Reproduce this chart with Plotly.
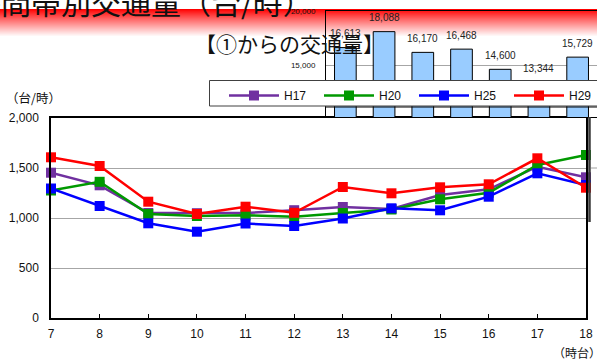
import plotly.graph_objects as go

W, H = 597, 359

# ---- main line chart data ----
hours = [7, 8, 9, 10, 11, 12, 13, 14, 15, 16, 17, 18]
h17 = [1453, 1327, 1050, 1048, 1050, 1078, 1110, 1090, 1230, 1287, 1513, 1407]
h20 = [1275, 1362, 1040, 1020, 1027, 1012, 1050, 1085, 1187, 1253, 1530, 1630]
h25 = [1295, 1120, 947, 863, 945, 920, 995, 1097, 1077, 1213, 1447, 1330]
h29 = [1607, 1520, 1163, 1040, 1113, 1052, 1310, 1247, 1307, 1337, 1597, 1303]
series_names = ["H17", "H20", "H25", "H29"]
series_colors = ["#7030A0", "#009900", "#0000FF", "#FF0000"]
y_ticks = [0, 500, 1000, 1500, 2000]

# ---- background inset bar chart data ----
inset_cats = ["c1", "c2", "c3", "c4", "c5", "c6", "c7"]
inset_vals = [16613, 18088, 16170, 16468, 14600, 13344, 15729]
inset_ticks = [15000, 20000]

def px_x(p):
    return p / W

def px_y(p):
    return (H - p) / H

fig = go.Figure()

# inset bars (behind)
fig.add_trace(go.Bar(
    x=inset_cats, y=inset_vals, xaxis="x2", yaxis="y2",
    marker=dict(color="#99CCFF", line=dict(color="#000000", width=1)),
    width=0.56, showlegend=False, hoverinfo="skip",
))

for name, vals, col in zip(series_names, [h17, h20, h25, h29], series_colors):
    fig.add_trace(go.Scatter(
        x=hours, y=vals, name=name, mode="lines+markers",
        line=dict(color=col, width=2.5),
        marker=dict(symbol="square", size=10, color=col),
        cliponaxis=False,
    ))

shapes = []
# red gradient band across the top
top, bot = 9, 37
n = bot - top
for i in range(n):
    t = i / (n - 1)
    g = int(round(255 * t ** 0.9))
    shapes.append(dict(type="rect", xref="paper", yref="paper",
                       x0=0, x1=1, y0=px_y(top + i + 1), y1=px_y(top + i),
                       fillcolor=f"rgb(255,{g},{g})", line=dict(width=0), layer="below"))
# decorative lines from the overlapping inset
shapes.append(dict(type="line", xref="paper", yref="paper",
                   x0=px_x(326), x1=1, y0=px_y(107), y1=px_y(107),
                   line=dict(color="#000000", width=1)))
shapes.append(dict(type="line", xref="paper", yref="paper",
                   x0=px_x(589.5), x1=px_x(589.5), y0=px_y(117), y1=px_y(222),
                   line=dict(color="#3a3a3a", width=2.5)))
shapes.append(dict(type="line", xref="paper", yref="paper",
                   x0=px_x(591), x1=1, y0=px_y(168), y1=px_y(168),
                   line=dict(color="#A0A0A0", width=1)))
# legend box (white, covering the inset), legend itself drawn on top
shapes.append(dict(type="rect", xref="paper", yref="paper", layer="above",
                   x0=px_x(209.5), x1=px_x(605), y0=px_y(106), y1=px_y(80.5),
                   fillcolor="#FFFFFF", line=dict(color="#404040", width=1)))

# value labels of the inset bars, placed through the inset axes
annotations = [
    dict(text=f"{v:,}", xref="x2", yref="y2", x=i, y=v, yshift=14,
         xanchor="center", yanchor="middle", showarrow=False,
         font=dict(size=10, color="#222222", family="Liberation Sans"))
    for i, v in enumerate(inset_vals)
]

annotations += [
    dict(text="時間帯別交通量（台/時）", xref="paper", yref="paper",
         x=px_x(-31.5), y=px_y(1), xanchor="left", yanchor="middle",
         showarrow=False, font=dict(size=30, color="#111111", family="Noto Sans CJK JP")),
    dict(text="【①からの交通量】", xref="paper", yref="paper",
         x=px_x(289), y=px_y(43), xanchor="center", yanchor="middle",
         showarrow=False, font=dict(size=21, color="#111111", family="Noto Sans CJK JP")),
    dict(text="（台/時）", xref="paper", yref="paper",
         x=px_x(33), y=px_y(97), xanchor="center", yanchor="middle",
         showarrow=False, font=dict(size=12.5, color="#111111", family="Noto Sans CJK JP")),
    dict(text="（時台）", xref="paper", yref="paper",
         x=px_x(551), y=px_y(352), xanchor="left", yanchor="middle",
         showarrow=False, font=dict(size=12, color="#111111", family="Noto Sans CJK JP")),
]

fig.update_layout(
    width=W, height=H,
    margin=dict(l=0, r=0, t=0, b=0, autoexpand=False),
    paper_bgcolor="#FFFFFF", plot_bgcolor="rgba(0,0,0,0)",
    font=dict(family="Liberation Sans", color="#111111"),
    xaxis=dict(domain=[px_x(51), px_x(586)], range=[7, 18], tickvals=hours,
               showgrid=False, zeroline=False, showline=True, linecolor="#000000",
               linewidth=1.5, mirror=True, ticks="inside", ticklen=4, tickcolor="#000000",
               tickfont=dict(size=12, color="#111111"), ticklabelstandoff=4,
               automargin=False),
    yaxis=dict(domain=[px_y(318), px_y(118)], range=[0, 2000], tickvals=y_ticks,
               tickformat=",", showgrid=True, gridcolor="#A6A6A6", gridwidth=1,
               zeroline=False, showline=True, linecolor="#000000", linewidth=1.5,
               mirror=True, ticks="", tickfont=dict(size=12, color="#111111"),
               ticklabelstandoff=8, automargin=False),
    xaxis2=dict(domain=[px_x(326), 1.0], anchor="y2", showticklabels=False,
                type="category", categoryorder="array", categoryarray=inset_cats,
                showgrid=False, zeroline=False, showline=True, linecolor="#000000",
                linewidth=1, mirror=True, ticks="", automargin=False),
    yaxis2=dict(domain=[px_y(117), px_y(11)], anchor="x2", range=[10185, 20000],
                tickvals=inset_ticks, tickformat=",", showgrid=True, gridcolor="#A6A6A6",
                zeroline=False, showline=True, linecolor="#000000", linewidth=1,
                mirror=True, ticks="", tickfont=dict(size=8, color="#111111"),
                ticklabelstandoff=8, automargin=False),
    legend=dict(orientation="h", x=px_x(224), y=px_y(81), xanchor="left", yanchor="top",
                bgcolor="rgba(0,0,0,0)", borderwidth=0,
                font=dict(size=12, color="#111111"), itemwidth=50,
                entrywidth=30, entrywidthmode="pixels", traceorder="normal"),
    shapes=shapes, annotations=annotations,
    showlegend=True,
)

fig.write_html("out.html", config={"displayModeBar": False},
               post_script="document.body.style.margin='0';")
